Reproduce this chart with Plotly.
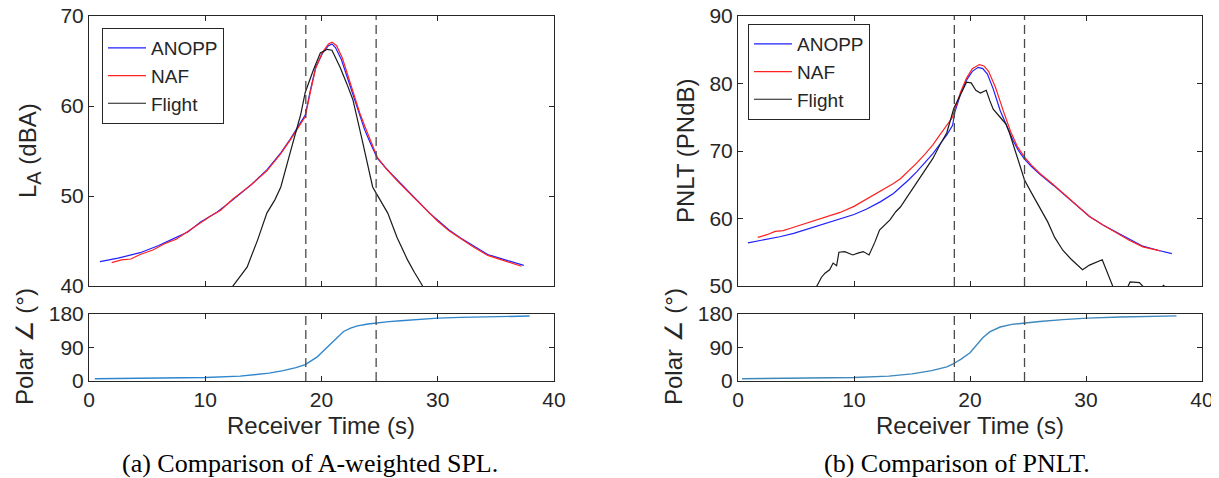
import plotly.graph_objects as go

# ---- (a) A-weighted SPL ----
t_anopp_a = [0.95, 2.5, 4.4, 6.0, 7.0, 8.5, 9.6, 11.0, 12.4, 14.0, 15.3, 16.5, 17.3, 17.9, 18.6,
             19.05, 19.5, 20.1, 20.6, 20.9, 21.2, 21.7, 22.2, 22.7, 23.2, 23.7, 24.2, 24.8, 25.6,
             26.5, 27.5, 28.5, 29.3, 30.0, 31.0, 32.0, 33.0, 34.3, 35.8, 37.4]
la_anopp = [42.7, 43.1, 43.7, 44.5, 45.1, 46.0, 47.1, 48.2, 49.6, 51.3, 52.9, 54.8, 56.3, 57.6, 59.0,
            61.8, 64.3, 65.9, 66.7, 66.9, 66.5, 65.2, 63.2, 61.2, 59.2, 57.4, 55.9, 54.2, 53.0,
            51.8, 50.5, 49.2, 48.1, 47.3, 46.2, 45.3, 44.5, 43.5, 42.9, 42.3]

t_naf_a = [1.95, 2.8, 3.6, 4.4, 5.5, 6.5, 7.5, 8.5, 9.6, 10.5, 11.3, 12.4, 13.3, 14.0, 15.3, 16.5,
           17.3, 17.9, 18.6, 19.05, 19.5, 20.1, 20.6, 20.9, 21.3, 21.8, 22.3, 22.8, 23.3, 23.8,
           24.3, 24.8, 25.6, 26.5, 27.5, 28.5, 29.3, 30.0, 31.0, 32.0, 33.0, 34.3, 35.8, 37.2]
la_naf = [42.6, 42.9, 43.0, 43.5, 44.0, 44.7, 45.2, 46.1, 47.0, 47.8, 48.4, 49.7, 50.6, 51.3, 52.8, 54.7,
          56.2, 57.4, 58.8, 61.6, 64.2, 66.0, 66.9, 67.1, 66.7, 65.3, 63.3, 61.3, 59.2, 57.5,
          55.9, 54.3, 53.0, 51.7, 50.4, 49.1, 48.0, 47.2, 46.1, 45.2, 44.4, 43.4, 42.8, 42.2]

t_flight_a = [11.8, 12.4, 13.0, 13.6, 14.5, 15.3, 16.0, 16.5, 17.3, 17.6, 18.2, 18.6, 19.3, 19.9,
              20.5, 20.9, 21.6, 22.2, 22.7, 23.5, 24.4, 24.8, 25.7, 26.5, 27.4, 28.0, 28.7, 29.3]
la_flight = [39.0, 40.0, 41.0, 42.1, 45.1, 48.1, 49.6, 51.0, 54.8, 56.2, 59.0, 61.5, 64.0, 65.9,
             66.3, 66.2, 64.3, 62.4, 60.7, 56.2, 51.0, 50.1, 48.1, 45.4, 42.9, 41.5, 40.0, 39.0]

t_polar_a = [0.5, 3, 6, 10, 13, 14, 15.5, 16.7, 17.8, 18.6, 19.2, 19.6, 20.2, 20.8, 21.4, 21.9,
             22.5, 23.1, 24.0, 24.7, 25.8, 26.8, 28.5, 30, 32, 34, 36, 37.9]
polar_a = [6, 6.5, 7.5, 9.5, 13, 16, 21, 28, 36, 44, 55, 64, 82, 101, 120, 133,
           142, 148, 153, 156, 159.5, 162, 166, 169, 171, 172.5, 173.5, 174.5]

# ---- (b) PNLT ----
t_anopp_b = [0.86, 2.2, 3.6, 4.8, 5.9, 7.3, 8.8, 10.0, 11.1, 12.3, 13.4, 14.0, 14.7, 15.4, 16.1,
             16.8, 17.4, 18.0, 18.5, 18.7, 19.2, 19.7, 20.2, 20.7, 21.1, 21.5, 22.0, 22.6, 23.2,
             23.7, 24.2, 24.7, 25.3, 26.0, 27.2, 28.3, 29.3, 30.3, 31.5, 32.7, 33.8, 34.9, 36.2, 37.4]
pnlt_anopp = [56.4, 56.8, 57.3, 57.8, 58.4, 59.1, 59.9, 60.6, 61.4, 62.5, 63.7, 64.6, 65.7, 66.9, 68.2,
              69.6, 71.0, 72.4, 73.8, 75.8, 78.5, 80.5, 81.8, 82.4, 82.2, 81.4, 79.2, 76.0, 73.6,
              71.6, 70.0, 68.8, 67.7, 66.6, 64.9, 63.3, 61.7, 60.3, 59.0, 57.9, 56.8, 55.9, 55.3, 54.8]

t_naf_b = [1.7, 2.5, 3.2, 3.9, 4.6, 5.5, 6.5, 7.5, 8.8, 10.0, 11.1, 12.3, 13.4, 14.0, 14.7, 15.4,
           16.1, 16.8, 17.4, 18.0, 18.5, 18.7, 19.2, 19.7, 20.2, 20.8, 21.2, 21.6, 22.2, 22.9,
           23.5, 24.1, 24.7, 25.3, 26.0, 27.2, 28.3, 29.3, 30.3, 31.5, 32.7, 33.8, 34.9, 36.4]
pnlt_naf = [57.2, 57.6, 58.1, 58.2, 58.6, 59.1, 59.6, 60.1, 60.9, 61.8, 62.9, 64.0, 65.2, 65.9, 67.0, 68.2,
            69.5, 70.9, 72.4, 73.8, 75.0, 76.2, 78.8, 80.8, 82.2, 82.8, 82.6, 81.8, 79.4, 75.8,
            72.9, 70.6, 69.1, 67.9, 66.7, 65.0, 63.3, 61.7, 60.3, 59.0, 57.8, 56.7, 55.8, 55.2]

t_flight_b = [6.5, 6.8, 7.2, 7.5, 7.9, 8.2, 8.5, 8.7, 9.2, 9.9, 10.4, 10.8, 11.3, 11.8, 12.2, 12.6,
              13.1, 13.6, 14.0, 14.7, 15.4, 16.1, 16.8, 17.4, 18.0, 18.6, 19.2, 19.7, 20.1, 20.5,
              20.9, 21.4, 21.7, 22.0, 22.6, 23.1, 23.4, 23.9, 24.3, 24.7, 25.3, 26.0, 26.7, 27.3,
              28.0, 28.7, 29.7, 30.3, 31.4, 32.3, 32.8, 33.5, 33.8, 34.6, 35.0, 35.8, 36.7, 37.2]
pnlt_flight = [49.5, 50.0, 51.3, 51.9, 52.4, 53.4, 53.0, 55.0, 55.1, 54.6, 54.9, 55.1, 54.6, 56.5, 58.3, 59.0,
               59.8, 61.0, 61.7, 63.5, 65.3, 67.2, 68.9, 70.9, 72.7, 76.3, 78.5, 80.2, 80.1, 79.0,
               78.6, 79.0, 77.5, 76.2, 75.0, 74.0, 72.7, 70.0, 67.8, 65.7, 63.8, 61.7, 59.5, 57.2,
               55.3, 54.0, 52.4, 53.1, 53.9, 50.0, 48.5, 49.5, 50.6, 50.5, 49.8, 48.8, 50.1, 48.8]

t_polar_b = [0.35, 3, 6, 10, 13, 15, 16.7, 18.0, 18.5, 19.2, 20.0, 20.6, 21.1, 21.7, 22.6, 23.6,
             24.6, 26, 28, 30.1, 33, 35.5, 37.8]
polar_b = [6, 6.5, 7.5, 9.5, 13, 19, 28, 38, 45, 58, 76, 97, 116, 132, 145, 152,
           156, 160, 165, 169, 172, 173.5, 175]

dash_times = [18.65, 24.7]

FONT = "Liberation Sans, Arial, sans-serif"
SERIF = "Liberation Serif, Times New Roman, serif"
AX = "#262626"

# the page body has an 8px margin, so the figure is drawn 8px in from the top-left
OFF = 8
W, H = 1219 - OFF, 478 - OFF

fig = go.Figure()

def line(x, y, name, color, xa, ya, legend=None, width=1.2):
    fig.add_trace(go.Scatter(
        x=x, y=y, name=name, mode="lines", xaxis=xa, yaxis=ya,
        line=dict(color=color, width=width),
        showlegend=legend is not None, legend=legend or "legend"))

line(t_anopp_a, la_anopp, "ANOPP", "#1f1fff", "x", "y", "legend")
line(t_naf_a, la_naf, "NAF", "#ff2020", "x", "y", "legend")
line(t_flight_a, la_flight, "Flight", "#1a1a1a", "x", "y", "legend")
line(t_polar_a, polar_a, "polar", "#2f86cc", "x2", "y2", width=1.4)

line(t_anopp_b, pnlt_anopp, "ANOPP", "#1f1fff", "x3", "y3", "legend2")
line(t_naf_b, pnlt_naf, "NAF", "#ff2020", "x3", "y3", "legend2")
line(t_flight_b, pnlt_flight, "Flight", "#1a1a1a", "x3", "y3", "legend2")
line(t_polar_b, polar_b, "polar", "#3d88bd", "x4", "y4", width=1.4)

for xa, ya in [("x", "y"), ("x2", "y2"), ("x3", "y3"), ("x4", "y4")]:
    for t in dash_times:
        fig.add_shape(type="line", xref=xa, yref=ya + " domain", x0=t, x1=t, y0=0, y1=1,
                      line=dict(color="#4a4a4a", width=1.3, dash="9px,5px"))

# screen pixel (as in the reference) -> paper fraction
def fx(px):
    return (px - OFF) / W

def fy(py):
    return 1 - (py - OFF) / H

left_dom = [fx(89), fx(554)]
right_dom = [fx(738), fx(1202)]
top_dom = [fy(286), fy(16)]
bot_dom = [fy(381), fy(314)]

common = dict(showline=True, linecolor=AX, linewidth=1, mirror="ticks", ticks="inside",
              ticklen=5, tickcolor=AX, showgrid=False, zeroline=False, automargin=False,
              ticklabeloverflow="allow",
              tickfont=dict(family=FONT, size=21, color=AX))

xtick = dict(range=[0, 40], tickvals=[0, 10, 20, 30, 40])
fig.update_layout(
    xaxis=dict(domain=left_dom, anchor="y", showticklabels=False, **xtick, **common),
    yaxis=dict(domain=top_dom, anchor="x", range=[40, 70], tickvals=[40, 50, 60, 70], **common),
    xaxis2=dict(domain=left_dom, anchor="y2", **xtick, **common),
    yaxis2=dict(domain=bot_dom, anchor="x2", range=[0, 180], tickvals=[0, 90, 180], **common),
    xaxis3=dict(domain=right_dom, anchor="y3", showticklabels=False, **xtick, **common),
    yaxis3=dict(domain=top_dom, anchor="x3", range=[50, 90], tickvals=[50, 60, 70, 80, 90], **common),
    xaxis4=dict(domain=right_dom, anchor="y4", **xtick, **common),
    yaxis4=dict(domain=bot_dom, anchor="x4", range=[0, 180], tickvals=[0, 90, 180], **common),
)

leg = dict(bgcolor="white", bordercolor=AX, borderwidth=1, xanchor="left", yanchor="top",
           font=dict(family=FONT, size=19, color=AX), tracegroupgap=0, itemwidth=38)
fig.update_layout(
    legend=dict(x=fx(102), y=fy(28), **leg),
    legend2=dict(x=fx(748), y=fy(24), **leg),
)

def note(text, x, y, size, angle=0, family=FONT, color=AX):
    fig.add_annotation(text=text, x=fx(x), y=fy(y), xref="paper", yref="paper",
                       showarrow=False, textangle=angle, xanchor="center", yanchor="middle",
                       font=dict(family=family, size=size, color=color))

note("L<sub><span style='font-size:20px'>A</span></sub> (dBA)", 30, 151, 24, -90)
note("Polar \u2220 (\u00b0)", 24, 347, 24, -90)
note("PNLT (PNdB)", 686, 151, 24, -90)
note("Polar \u2220 (\u00b0)", 673, 347, 24, -90)
note("Receiver Time (s)", 321, 425, 24)
note("Receiver Time (s)", 970, 425, 24)
note("(a) Comparison of A-weighted SPL.", 310, 463, 26, family=SERIF, color="black")
note("(b) Comparison of PNLT.", 957, 463, 26, family=SERIF, color="black")

fig.update_layout(width=W, height=H, margin=dict(l=0, r=0, t=0, b=0, autoexpand=False),
                  paper_bgcolor="white", plot_bgcolor="white")

fig.write_html("out.html")
